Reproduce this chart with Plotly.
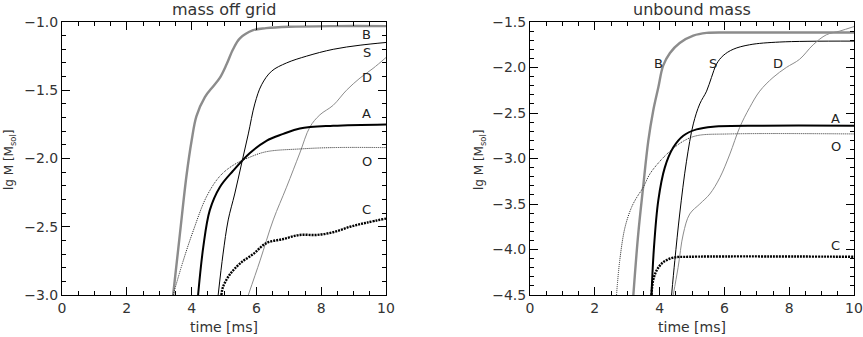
import plotly.graph_objects as go

# --- mass off grid (left panel) ---
grid_B_t = [3.43, 3.64, 3.84, 4.0, 4.15, 4.41, 4.67, 4.87, 5.08, 5.28, 5.49, 5.9, 6.3, 7.0, 8.37, 10.0]
grid_B_m = [-3.0, -2.55, -2.13, -1.87, -1.69, -1.55, -1.47, -1.41, -1.31, -1.20, -1.12, -1.06, -1.045, -1.035, -1.03, -1.03]
grid_S_t = [4.82, 4.97, 5.13, 5.33, 5.54, 5.75, 5.95, 6.16, 6.47, 6.93, 7.55, 8.37, 9.2, 10.0]
grid_S_m = [-3.0, -2.70, -2.45, -2.26, -2.04, -1.82, -1.60, -1.46, -1.36, -1.30, -1.25, -1.20, -1.17, -1.15]
grid_D_t = [5.75, 6.11, 6.52, 6.93, 7.34, 7.65, 7.96, 8.37, 8.78, 9.2, 9.6, 10.0]
grid_D_m = [-3.0, -2.75, -2.45, -2.21, -1.96, -1.77, -1.68, -1.61, -1.50, -1.41, -1.34, -1.26]
grid_A_t = [4.2, 4.36, 4.56, 4.87, 5.28, 5.8, 6.31, 6.83, 7.34, 8.37, 10.0]
grid_A_m = [-3.0, -2.65, -2.38, -2.21, -2.09, -1.96, -1.87, -1.82, -1.78, -1.76, -1.75]
grid_O_t = [3.43, 3.74, 4.05, 4.46, 4.87, 5.28, 5.8, 6.31, 7.34, 8.37, 10.0]
grid_O_m = [-3.0, -2.75, -2.53, -2.28, -2.13, -2.05, -1.99, -1.95, -1.93, -1.92, -1.92]
grid_C_t = [4.92, 4.97, 5.18, 5.49, 5.9, 6.31, 6.83, 7.34, 7.86, 8.37, 8.89, 9.4, 10.0]
grid_C_m = [-3.0, -2.94, -2.85, -2.77, -2.70, -2.62, -2.59, -2.56, -2.56, -2.54, -2.50, -2.47, -2.44]

# --- unbound mass (right panel) ---
unb_B_t = [3.19, 3.34, 3.49, 3.65, 3.80, 3.96, 4.11, 4.32, 4.62, 5.04, 5.45, 6.17, 10.0]
unb_B_m = [-4.5, -3.83, -3.32, -2.81, -2.48, -2.22, -1.98, -1.84, -1.73, -1.65, -1.62, -1.615, -1.615]
unb_S_t = [4.37, 4.47, 4.62, 4.83, 5.04, 5.24, 5.45, 5.60, 5.76, 5.96, 6.27, 6.78, 7.71, 10.0]
unb_S_m = [-4.5, -4.12, -3.61, -3.03, -2.62, -2.40, -2.26, -2.11, -1.96, -1.87, -1.80, -1.75, -1.72, -1.71]
unb_D_t = [4.42, 4.57, 4.73, 4.93, 5.24, 5.55, 5.86, 6.17, 6.47, 6.78, 7.09, 7.5, 7.91, 8.32, 8.74, 9.15, 9.56, 10.0]
unb_D_m = [-4.5, -4.2, -3.83, -3.61, -3.50, -3.39, -3.21, -2.95, -2.66, -2.44, -2.26, -2.11, -2.0, -1.91, -1.75, -1.64, -1.60, -1.55]
unb_A_t = [3.75, 3.82, 3.96, 4.16, 4.42, 4.73, 5.14, 5.65, 7.19, 10.0]
unb_A_m = [-4.5, -4.01, -3.46, -3.10, -2.88, -2.75, -2.68, -2.65, -2.64, -2.64]
unb_O_t = [2.67, 2.77, 2.93, 3.13, 3.29, 3.49, 3.70, 4.01, 4.32, 4.73, 5.14, 6.17, 10.0]
unb_O_m = [-4.5, -4.12, -3.76, -3.54, -3.43, -3.32, -3.17, -3.03, -2.92, -2.81, -2.75, -2.73, -2.73]
unb_C_t = [3.75, 3.80, 3.91, 4.11, 4.42, 4.93, 10.0]
unb_C_m = [-4.5, -4.34, -4.23, -4.14, -4.09, -4.08, -4.08]

labels = ['B', 'S', 'D', 'A', 'O', 'C']
grid_lab_t = [9.4, 9.4, 9.4, 9.4, 9.4, 9.4]
grid_lab_m = [-1.09, -1.22, -1.41, -1.67, -2.02, -2.37]
unb_lab_t = [3.96, 5.65, 7.66, 9.43, 9.43, 9.43]
unb_lab_m = [-1.96, -1.96, -1.96, -2.56, -2.87, -3.96]

styles = {
    'B': dict(color='#8c8c8c', width=2.4),
    'S': dict(color='black', width=1),
    'D': dict(color='#8c8c8c', width=1),
    'A': dict(color='black', width=2),
    'O': dict(color='#222', width=1, dash='1px,1px'),
    'C': dict(color='black', width=2.4, dash='2px,1px'),
}

fig = go.Figure()

left = [('B', grid_B_t, grid_B_m), ('S', grid_S_t, grid_S_m), ('D', grid_D_t, grid_D_m),
        ('A', grid_A_t, grid_A_m), ('O', grid_O_t, grid_O_m), ('C', grid_C_t, grid_C_m)]
right = [('B', unb_B_t, unb_B_m), ('S', unb_S_t, unb_S_m), ('D', unb_D_t, unb_D_m),
         ('A', unb_A_t, unb_A_m), ('O', unb_O_t, unb_O_m), ('C', unb_C_t, unb_C_m)]

for name, t, m in left:
    fig.add_trace(go.Scatter(x=t, y=m, mode='lines', line=styles[name], line_shape='spline',
                             xaxis='x', yaxis='y', showlegend=False))
for name, t, m in right:
    fig.add_trace(go.Scatter(x=t, y=m, mode='lines', line=styles[name], line_shape='spline',
                             xaxis='x2', yaxis='y2', showlegend=False))

tickfont = dict(family='DejaVu Sans', size=14, color='#333')
axis_common = dict(showline=True, linecolor='black', linewidth=1, mirror='allticks',
                   ticks='inside', ticklen=8, tickcolor='black', showgrid=False,
                   zeroline=False, tickfont=tickfont, automargin=False)

dom_y = [1 - 295 / 337, 1 - 22 / 337]
fig.update_layout(
    template='none',
    width=863, height=337, margin=dict(l=0, r=0, t=0, b=0, autoexpand=False),
    plot_bgcolor='white', paper_bgcolor='white',
    xaxis=dict(domain=[62 / 863, 386 / 863], range=[0, 10], dtick=2,
               minor=dict(ticks='inside', dtick=0.5, ticklen=4, tickcolor='black'),
               **axis_common),
    yaxis=dict(domain=dom_y, range=[-3, -1], dtick=0.5, tickformat='.1f',
               minor=dict(ticks='inside', dtick=0.1, ticklen=4, tickcolor='black'),
               anchor='x', **axis_common),
    xaxis2=dict(domain=[530 / 863, 854 / 863], range=[0, 10], dtick=2, anchor='y2',
                minor=dict(ticks='inside', dtick=0.5, ticklen=4, tickcolor='black'),
                **axis_common),
    yaxis2=dict(domain=dom_y, range=[-4.5, -1.5], dtick=0.5, tickformat='.1f', anchor='x2',
                minor=dict(ticks='inside', dtick=0.1, ticklen=4, tickcolor='black'),
                **axis_common),
)

ann = []
labfont = dict(family='DejaVu Sans', size=13, color='#222')
for lab, t, m in zip(labels, grid_lab_t, grid_lab_m):
    ann.append(dict(x=t, y=m, xref='x', yref='y', text=lab, showarrow=False, font=labfont))
for lab, t, m in zip(labels, unb_lab_t, unb_lab_m):
    ann.append(dict(x=t, y=m, xref='x2', yref='y2', text=lab, showarrow=False, font=labfont))

titlefont = dict(family='DejaVu Sans', size=16, color='#333')
xtfont = dict(family='DejaVu Sans', size=14, color='#333')
ytfont = dict(family='DejaVu Sans', size=12, color='#333')
texts = [
    ('mass off grid', 224, 9, 0, titlefont),
    ('unbound mass', 692, 9, 0, titlefont),
    ('time [ms]', 224, 327, 0, xtfont),
    ('time [ms]', 692, 327, 0, xtfont),
    ('lg M [M<sub>sol</sub>]', 10, 160, -90, ytfont),
    ('lg M [M<sub>sol</sub>]', 480, 160, -90, ytfont),
]
for txt, px, py, ang, f in texts:
    ann.append(dict(x=px / 863, y=1 - py / 337, xref='paper', yref='paper', text=txt,
                    xanchor='center', yanchor='middle', textangle=ang,
                    showarrow=False, font=f))
fig.update_layout(annotations=ann)

# page body has a default 8px margin; drop it so the figure fills the window
fig.write_html("out.html", config={'displayModeBar': False},
               post_script="document.body.style.margin='0px';")
